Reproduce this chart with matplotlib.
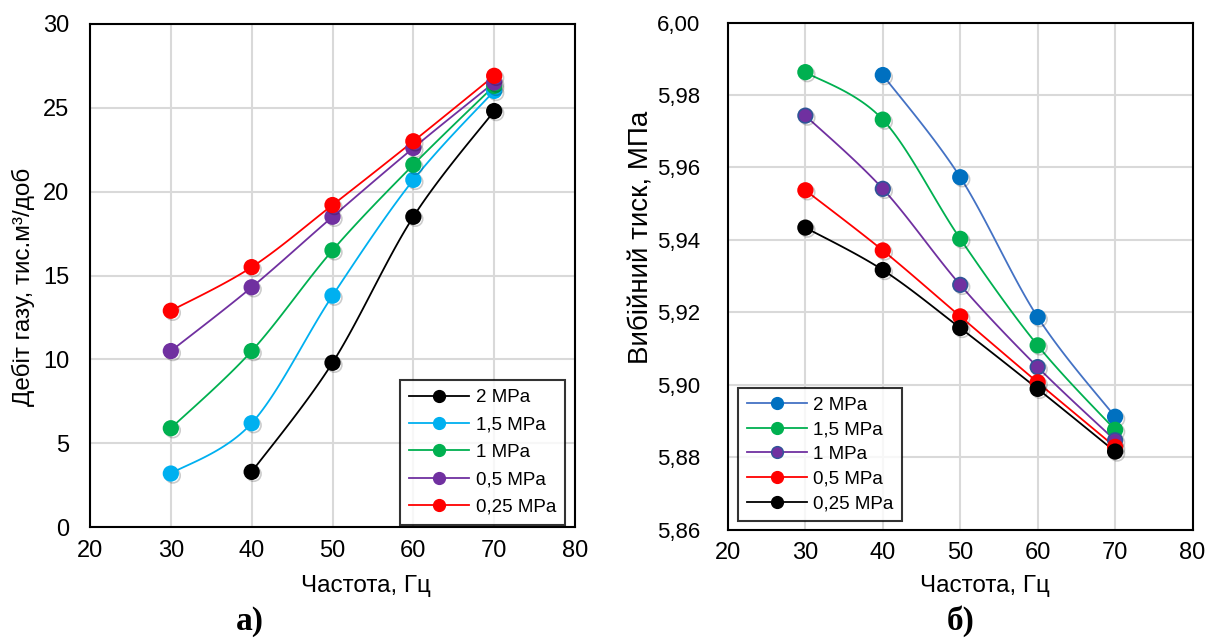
import matplotlib
matplotlib.use('Agg')
import matplotlib.pyplot as plt
import matplotlib.patheffects as pe
import numpy as np

plt.rcParams['font.family'] = ['Liberation Sans', 'DejaVu Sans']

freq = [30, 40, 50, 60, 70]

# Left chart: gas flow rate, thousand m3/day
flow_2 = [np.nan, 3.3, 9.8, 18.5, 24.8]
flow_15 = [3.2, 6.2, 13.8, 20.7, 26.0]
flow_1 = [5.9, 10.5, 16.5, 21.6, 26.3]
flow_05 = [10.5, 14.3, 18.5, 22.6, 26.5]
flow_025 = [12.9, 15.5, 19.2, 23.0, 26.9]

# Right chart: bottom-hole pressure, MPa
pres_2 = [np.nan, 5.9855, 5.9573, 5.9187, 5.8912]
pres_15 = [5.9863, 5.9732, 5.9403, 5.9109, 5.8876]
pres_1 = [5.9743, 5.9541, 5.9276, 5.9049, 5.8847]
pres_05 = [5.9537, 5.9371, 5.9189, 5.9007, 5.8829]
pres_025 = [5.9434, 5.9317, 5.9157, 5.8989, 5.8816]

labels_left = ['2 MPa', '1,5 MPa', '1 MPa', '0,5 MPa', '0,25 MPa']
labels_right = ['2 MPa', '1,5 MPa', '1 MPa', '0,5 MPa', '0,25 MPa']


def smooth(x, y, xspan, yspan, n=30):
    # Excel-like smoothed line: cubic Bezier segments through the points
    x = np.asarray(x, float)
    y = np.asarray(y, float)
    ok = ~np.isnan(y)
    x, y = x[ok], y[ok]
    pts = np.column_stack([x / xspan, y / yspan])
    out = [pts[0]]
    t = np.linspace(0, 1, n)[1:, None]
    for i in range(len(pts) - 1):
        p0 = pts[max(i - 1, 0)]
        p1 = pts[i]
        p2 = pts[i + 1]
        p3 = pts[min(i + 2, len(pts) - 1)]
        c1 = p1 + (p2 - p0) / 6
        c2 = p2 - (p3 - p1) / 6
        seg = ((1 - t) ** 3) * p1 + 3 * ((1 - t) ** 2) * t * c1 + 3 * (1 - t) * t ** 2 * c2 + t ** 3 * p2
        out.extend(seg)
    out = np.array(out)
    return out[:, 0] * xspan, out[:, 1] * yspan, x, y


shadow = [pe.SimpleLineShadow(offset=(1.5, -1.5), alpha=0.2, shadow_color='k'), pe.Normal()]


def draw(ax, series, labels, lcolors, mcolors, medges, xspan, yspan):
    for ys, lab, lc, mc, me in zip(series, labels, lcolors, mcolors, medges):
        sx, sy, px, py = smooth(freq, ys, xspan, yspan)
        ax.plot(sx, sy, color=lc, lw=1.3, zorder=3)
        ax.plot(px, py, ls='none', marker='o', ms=10.5, mfc=mc, mec=me, mew=1.2,
                zorder=4, path_effects=shadow)
        ax.plot([], [], color=lc, lw=1.3, marker='o', ms=8.5, mfc=mc, mec=me, label=lab)


fig = plt.figure(figsize=(12.08, 6.43), dpi=100)
ax1 = fig.add_axes([0.0745, 0.180, 0.4015, 0.783])
ax2 = fig.add_axes([0.6026, 0.176, 0.3846, 0.789])

left_colors = ['#000000', '#00B0F0', '#00B050', '#7030A0', '#FF0000']
draw(ax1, [flow_2, flow_15, flow_1, flow_05, flow_025], labels_left,
     left_colors, left_colors, left_colors, 60, 30)

right_lines = ['#4472C4', '#00B050', '#7030A0', '#FF0000', '#000000']
right_marks = ['#0070C0', '#00B050', '#7030A0', '#FF0000', '#000000']
right_edges = ['#0070C0', '#00B050', '#2F5597', '#FF0000', '#000000']
draw(ax2, [pres_2, pres_15, pres_1, pres_05, pres_025], labels_right,
     right_lines, right_marks, right_edges, 60, 0.14)

ax1.set_xlim(20, 80)
ax1.set_ylim(0, 30)
ax1.set_xticks(range(20, 81, 10))
ax1.set_yticks(range(0, 31, 5))
ax1.set_xlabel('Частота, Гц', fontsize=17.5)
ax1.set_ylabel('Дебіт газу, тис.м³/доб', fontsize=17.5)
ax1.xaxis.set_label_coords(0.569, -0.095)
ax1.yaxis.set_label_coords(-0.113, 0.477)

ax2.set_xlim(20, 80)
ax2.set_ylim(5.86, 6.00)
ax2.set_xticks(range(20, 81, 10))
yt = np.arange(5.86, 6.001, 0.02)
ax2.set_yticks(yt)
ax2.set_yticklabels([f'{v:.2f}'.replace('.', ',') for v in yt])
ax2.set_xlabel('Частота, Гц', fontsize=17.5)
ax2.set_ylabel('Вибійний тиск, МПа', fontsize=20)
ax2.xaxis.set_label_coords(0.554, -0.089)
ax2.yaxis.set_label_coords(-0.157, 0.577)

for ax in (ax1, ax2):
    ax.grid(True, color='#D9D9D9', lw=1.5)
    ax.set_axisbelow(True)
    ax.tick_params(axis='x', length=0, labelsize=17, pad=9)
    for s in ax.spines.values():
        s.set_color('black')
        s.set_linewidth(1.5)
ax1.tick_params(axis='y', length=0, labelsize=17, pad=15)
ax2.tick_params(axis='y', length=0, labelsize=16, pad=20)

leg1 = ax1.legend(loc='lower right', bbox_to_anchor=(0.98, 0.004), fontsize=13.5,
                  frameon=True, fancybox=False, edgecolor='black', borderpad=0.5,
                  handlelength=3.2, handletextpad=0.35, labelspacing=0.55,
                  borderaxespad=0)
leg1.get_frame().set_linewidth(1.5)
leg2 = ax2.legend(loc='lower left', bbox_to_anchor=(0.022, 0.018), fontsize=13.5,
                  frameon=True, fancybox=False, edgecolor='black', borderpad=0.45,
                  handlelength=3.2, handletextpad=0.35, labelspacing=0.4,
                  borderaxespad=0)
leg2.get_frame().set_linewidth(1.5)

fig.text(0.207, 0.02, 'а)', fontsize=24, fontweight='bold', family='Liberation Serif', ha='center')
fig.text(0.795, 0.02, 'б)', fontsize=24, fontweight='bold', family='Liberation Serif', ha='center')

fig.savefig('out.png', dpi=100)
